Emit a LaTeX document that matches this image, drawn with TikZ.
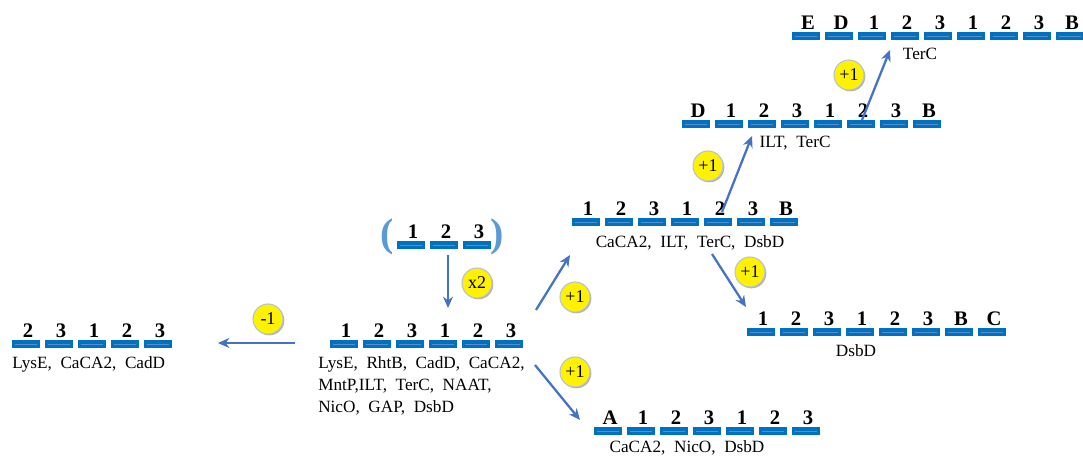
\documentclass[tikz,border=0pt]{standalone}
\usepackage{fontspec}
\setmainfont{Liberation Serif}
\usetikzlibrary{arrows.meta,shadows}
\definecolor{blk}{RGB}{0,112,192}
\definecolor{blkline}{RGB}{80,145,210}
\definecolor{arrcol}{RGB}{68,114,196}
\definecolor{paren}{RGB}{91,155,213}
\definecolor{ring}{RGB}{180,195,215}
\newcommand\lblfont{\fontsize{12.9}{16}\selectfont\spaceskip=0.5em plus 0.1em minus 0.1em\relax}
\newcommand\generow[4]{%
  \foreach \lab [count=\i from 0] in {#4} {
    \node[gblock] (#1-\i) at (#2+\i*33+14, #3+4) {};
    \node[digit] (#1-\i-t) at ([xshift=1.5pt,yshift=1.5pt]#1-\i.north) {\lab};
  }}
\tikzset{
  gblock/.style={rectangle, fill=blk, minimum width=21pt, minimum height=6pt, inner sep=0pt,
    path picture={\draw[blkline,line width=0.6pt] ([xshift=2.5pt]path picture bounding box.west) -- ([xshift=-2.5pt]path picture bounding box.east);}},
  digit/.style={anchor=base, inner sep=0pt, font=\fontsize{15.5}{18}\selectfont\bfseries},
  lbl/.style={anchor=base, inner sep=0pt, font=\lblfont},
  badge/.style={circle, fill=yellow, draw=ring, line width=0.8pt, minimum size=22.5pt, inner sep=0pt,
    font=\fontsize{13.5}{13.5}\selectfont, drop shadow={shadow xshift=1pt, shadow yshift=-1pt, opacity=0.3, fill=black}},
  arr/.style={draw=arrcol, line width=1.7pt, -{Stealth[length=8.5pt,width=7.5pt]}},
  par/.style={inner sep=0pt, text=paren, font=\fontsize{30}{30}\selectfont\bfseries}
}
\begin{document}
\begin{tikzpicture}[x=0.75pt,y=-0.75pt]
\useasboundingbox (0,0) rectangle (1083,457);
% gene rows
\generow{t}{792}{32}{E,D,1,2,3,1,2,3,B}
\generow{r}{682}{120}{D,1,2,3,1,2,3,B}
\generow{s}{572}{218}{1,2,3,1,2,3,B}
\generow{b}{397}{241}{1,2,3}
\generow{m}{330}{340}{1,2,3,1,2,3}
\generow{l}{12}{340}{2,3,1,2,3}
\generow{d}{747}{328}{1,2,3,1,2,3,B,C}
\generow{a}{594}{427}{A,1,2,3,1,2,3}
% parentheses
\node[par] (lp) at (387,237) {(};
\node[par] (rp) at (497,237) {)};
% labels
\node[lbl] (t-lab) at (920,59) {TerC};
\node[lbl] (r-lab) at (795,147) {ILT, TerC};
\node[lbl] (s-lab) at (690,247) {CaCA2, ILT, TerC, DsbD};
\node[lbl, anchor=base west] (m-l1) at (318,368) {LysE, RhtB, CadD, CaCA2,};
\node[lbl, anchor=base west] (m-l2) at (318,390) {MntP,ILT,  TerC, NAAT,};
\node[lbl, anchor=base west] (m-l3) at (318,412) {NicO, GAP, DsbD};
\node[lbl, anchor=base west] (l-lab) at (12,368) {LysE, CaCA2, CadD};
\node[lbl] (d-lab) at (856,356) {DsbD};
\node[lbl] (a-lab) at (687,452.5) {CaCA2, NicO, DsbD};
% arrow end points
\coordinate (p1s) at (536,310); \coordinate (p1e) at (570,255);
\coordinate (p2s) at (535,365); \coordinate (p2e) at (580,420);
\coordinate (p3s) at (712,254); \coordinate (p3e) at (746,307);
\coordinate (p4s) at (722,212); \coordinate (p4e) at (752,136);
\coordinate (p5s) at (862,120); \coordinate (p5e) at (890,50);
\coordinate (lfs) at (295,343); \coordinate (lfe) at (218,343);
\coordinate (brs) at (448,255); \coordinate (bre) at (448,308);
\draw[arr] (p1s) -- (p1e);
\draw[arr] (p2s) -- (p2e);
\draw[arr] (p3s) -- (p3e);
\draw[arr] (p4s) -- (p4e);
\draw[arr] (p5s) -- (p5e);
\draw[arr] (lfs) -- (lfe);
\draw[arr] (brs) -- (bre);
% badges
\node[badge] (c1) at (575,297) {+1};
\node[badge] (c2) at (575,372) {+1};
\node[badge] (c3) at (750,272) {+1};
\node[badge] (c4) at (708,166) {+1};
\node[badge] (c5) at (849,75) {+1};
\node[badge] (c6) at (268,319) {-1};
\node[badge] (c7) at (477,283) {x2};
\end{tikzpicture}
\end{document}
